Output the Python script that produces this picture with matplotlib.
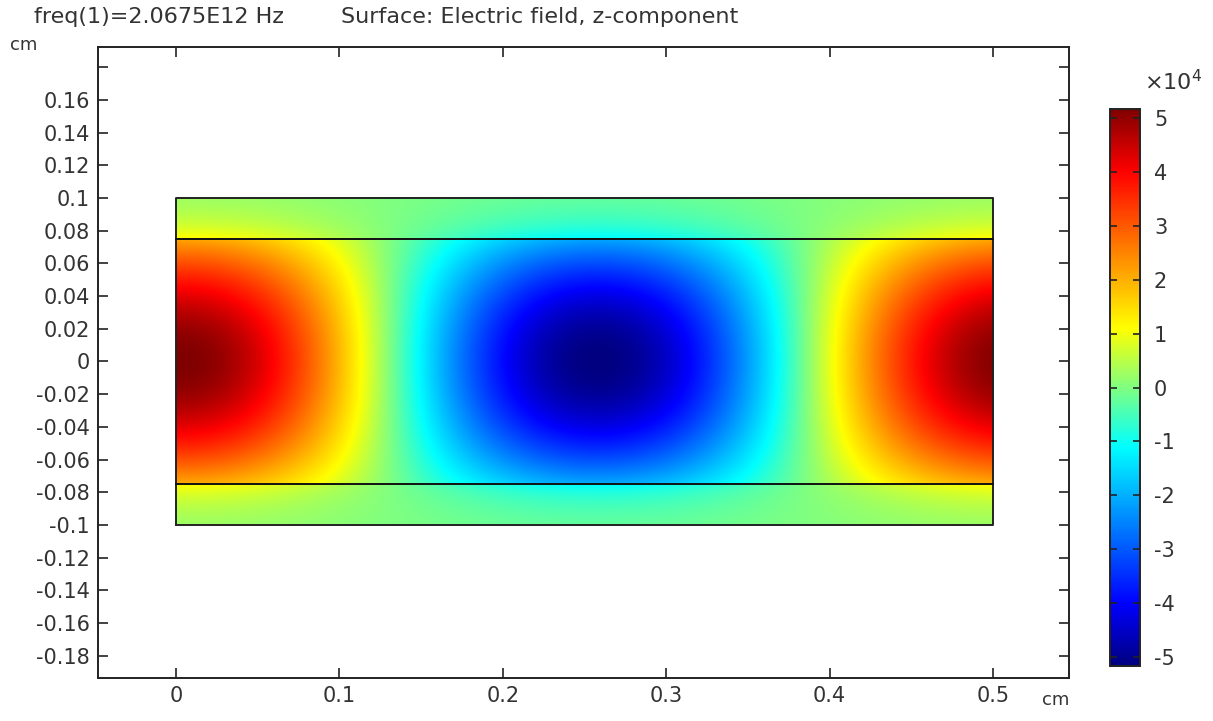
import matplotlib

matplotlib.use("Agg")
import matplotlib.pyplot as plt
import numpy as np
from matplotlib.colors import LinearSegmentedColormap
from matplotlib.ticker import FixedLocator, FuncFormatter

# geometry of the model (cm)
domain_x = [0.0, 0.5]
domain_y = [-0.1, 0.1]
core_y = [-0.075, 0.075]

# field levels (Ez in V/m)
ez_peak = 5.16e4          # dark red / navy extremes
x_peak = 0.003            # left maximum sits just right of x=0
wavelength = 0.51         # minimum near x=0.258
core_edge_ratio = 0.40    # |Ez| just inside the core boundary, relative to centre
clad_edge_ratio = 0.22    # just outside the core boundary
outer_edge_ratio = 0.05   # at y=+-0.1

# colour scale knots (value in 1e4 V/m -> colour)
cmap_values = [-5.16, -4.0, -1.1, 0.0, 1.1, 4.0, 5.16]
cmap_colors = ["#000080", "#0000ff", "#00ffff", "#80ff80", "#ffff00", "#ff0000", "#800000"]
cbar_ticks = [-5, -4, -3, -2, -1, 0, 1, 2, 3, 4, 5]

x_ticks = [0.0, 0.1, 0.2, 0.3, 0.4, 0.5]
y_ticks = [round(v, 2) for v in np.arange(-0.18, 0.181, 0.02)]

title_left = "freq(1)=2.0675E12 Hz"
title_right = "Surface: Electric field, z-component"
FS = 15


def fmt(v, _pos=None):
    if abs(v) < 1e-9:
        return "0"
    if abs(v - 0.18) < 1e-9:
        return ""
    return f"{v:g}"


def main() -> None:
    xg = np.linspace(domain_x[0], domain_x[1], 1001)
    yg = np.linspace(domain_y[0], domain_y[1], 801)
    X, Y = np.meshgrid(xg, yg)

    h = core_y[1]
    ky = np.arccos(core_edge_ratio) / h
    alpha = np.log(clad_edge_ratio / outer_edge_ratio) / (domain_y[1] - h)
    ay = np.abs(Y)
    gy = np.where(ay <= h, np.cos(ky * Y), clad_edge_ratio * np.exp(-alpha * (ay - h)))
    fx = np.cos(2 * np.pi * (X - x_peak) / wavelength)
    ez = ez_peak * fx * gy / 1e4

    vmin, vmax = cmap_values[0], cmap_values[-1]
    nodes = [(v - vmin) / (vmax - vmin) for v in cmap_values]
    cmap = LinearSegmentedColormap.from_list("comsol_rainbow", list(zip(nodes, cmap_colors)), N=512)

    W, H = 1213, 721
    fig = plt.figure(figsize=(W / 100, H / 100), dpi=100)
    ax = fig.add_axes([98 / W, 1 - 678 / H, (1069 - 98) / W, (678 - 47) / H])

    ax.imshow(ez, extent=[domain_x[0], domain_x[1], domain_y[0], domain_y[1]], origin="lower",
              cmap=cmap, vmin=vmin, vmax=vmax, interpolation="bilinear", aspect="auto")

    # domain outline and core boundaries
    ax.plot([domain_x[0], domain_x[1], domain_x[1], domain_x[0], domain_x[0]],
            [domain_y[0], domain_y[0], domain_y[1], domain_y[1], domain_y[0]], color="#222222", lw=1.4)
    for yc in core_y:
        ax.plot(domain_x, [yc, yc], color="#111111", lw=1.4)

    ax.set_xlim(-0.0477, 0.5465)
    ax.set_ylim(-0.1936, 0.1923)
    ax.xaxis.set_major_locator(FixedLocator(x_ticks))
    ax.yaxis.set_major_locator(FixedLocator(y_ticks))
    ax.xaxis.set_major_formatter(FuncFormatter(fmt))
    ax.yaxis.set_major_formatter(FuncFormatter(fmt))
    ax.tick_params(direction="in", length=7, width=1.2, color="#222222", top=True, right=True,
                   labelsize=FS, labelcolor="#333333", pad=6)
    for sp in ax.spines.values():
        sp.set_color("#222222")
        sp.set_linewidth(1.4)

    fig.text(34 / W, 1 - 17 / H, title_left, fontsize=16, color="#333333", va="center", ha="left")
    fig.text(341 / W, 1 - 17 / H, title_right, fontsize=16, color="#333333", va="center", ha="left")
    fig.text(10 / W, 1 - 45 / H, "cm", fontsize=13, color="#333333", va="center", ha="left")
    fig.text(1042 / W, 1 - 700 / H, "cm", fontsize=13, color="#333333", va="center", ha="left")

    cax = fig.add_axes([1110 / W, 1 - 666 / H, 30 / W, (666 - 109) / H])
    sm = plt.cm.ScalarMappable(cmap=cmap, norm=plt.Normalize(vmin, vmax))
    cb = fig.colorbar(sm, cax=cax)
    cb.set_ticks(cbar_ticks)
    cb.ax.yaxis.set_major_formatter(FuncFormatter(lambda v, p: f"{v:g}"))
    cb.ax.tick_params(direction="in", length=5, width=1.2, color="#222222", left=True, right=True,
                      labelsize=FS, labelcolor="#333333", pad=10)
    cb.outline.set_edgecolor("#222222")
    cb.outline.set_linewidth(1.4)
    fig.text(1144 / W, 1 - 82 / H, r"$\times\mathregular{10^4}$", fontsize=FS + 1, color="#333333",
             va="center", ha="left")

    fig.savefig("out.png", dpi=100)
    plt.close(fig)


if __name__ == "__main__":
    main()
